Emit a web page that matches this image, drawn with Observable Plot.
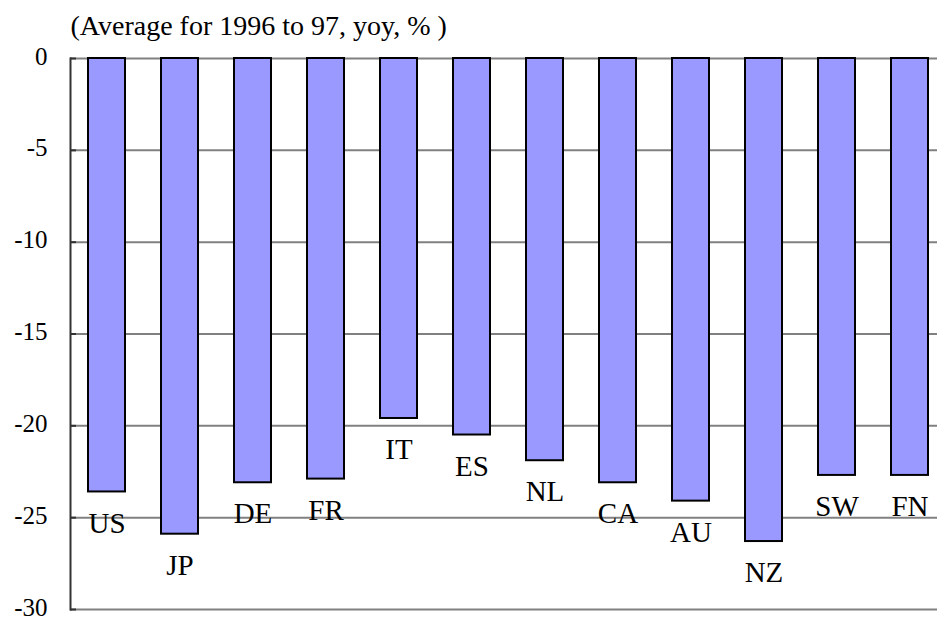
<!DOCTYPE html>
<html>
<head>
<meta charset="utf-8">
<script src="https://cdn.jsdelivr.net/npm/d3@7"></script>
<script src="https://cdn.jsdelivr.net/npm/@observablehq/plot@0.6"></script>
<style>
  html, body { margin: 0; padding: 0; background: #fff; }
  svg text { font-family: "Liberation Serif", "Times New Roman", serif !important; }
</style>
</head>
<body>
<div id="chart"></div>
<script>
const countries = ["US", "JP", "DE", "FR", "IT", "ES", "NL", "CA", "AU", "NZ", "SW", "FN"];
const values = [-23.6, -25.9, -23.1, -22.9, -19.6, -20.5, -21.9, -23.1, -24.1, -26.3, -22.7, -22.7];
const yTicks = [0, -5, -10, -15, -20, -25, -30];
const titleText = "(Average for 1996 to 97, yoy, % )";

const data = countries.map((c, i) => ({c, v: values[i]}));

const W = 937, H = 620, ML = 70, MR = 0, MT = 58, MB = 11;
const FONT = "Liberation Serif";

const chart = Plot.plot({
  width: W,
  height: H,
  marginLeft: ML,
  marginRight: MR,
  marginTop: MT,
  marginBottom: MB,
  style: {fontFamily: FONT, color: "#000", background: "#fff"},
  x: {domain: countries, range: [ML, 946], paddingInner: 0.49, paddingOuter: 0.245, axis: null},
  y: {domain: [-30, 0], ticks: yTicks},
  marks: [
    Plot.ruleY(yTicks, {stroke: "#808080", strokeWidth: 2}),
    Plot.barY(data, {x: "c", y: "v", fill: "#9999ff", stroke: "#000", strokeWidth: 2}),
    Plot.ruleY(yTicks, {insetRight: W - ML - MR - 6, stroke: "#333", strokeWidth: 2}),
    Plot.frame({anchor: "left", stroke: "#333", strokeWidth: 2}),
    Plot.axisY({ticks: yTicks, tickSize: 0, tickPadding: 23, fontSize: 25, fontFamily: FONT, dy: -2, tickFormat: d => String(d), label: null}),
    Plot.text(data, {x: "c", y: "v", text: "c", lineAnchor: "top", dy: 20, fontSize: 29, fontFamily: FONT, fill: "#000"}),
    Plot.text([titleText], {frameAnchor: "top-left", textAnchor: "start", lineAnchor: "bottom", dy: -24, fontSize: 28, fontFamily: FONT, fill: "#000"})
  ]
});
document.getElementById("chart").appendChild(chart);
</script>
</body>
</html>
